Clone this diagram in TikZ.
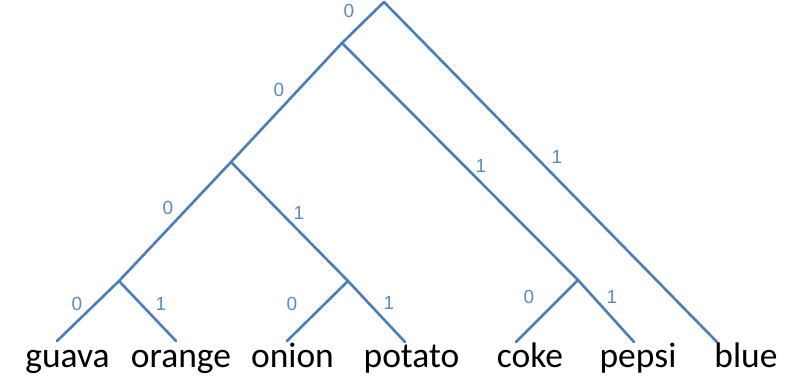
\documentclass[tikz,border=0pt]{standalone}
\usepackage{fontspec}
\setmainfont{Carlito}
\newfontfamily\bitfont{Liberation Sans}
\usepackage{xcolor}
\usepackage{tikz}
\usetikzlibrary{positioning, calc}

\definecolor{branchblue}{HTML}{4A7EBB}
\definecolor{bitblue}{HTML}{5A8AC4}

\begin{document}
\begin{tikzpicture}[
    x=1pt, y=-1pt,
    branch/.style={draw=branchblue, line width=2.6pt, line cap=round},
    word/.style={anchor=base, inner sep=0pt, font=\fontsize{35.5}{40}\selectfont},
    bit/.style={inner sep=0pt, text=bitblue, font=\bitfont\fontsize{19}{22}\selectfont}
]
\useasboundingbox (0,0) rectangle (805,376);

% inner points of the tree
\coordinate (root) at (384,2);
\coordinate (n0) at (342,43);
\coordinate (n00) at (231,162);
\coordinate (n000) at (119,281);
\coordinate (n001) at (348,281);
\coordinate (n01) at (578,280);

% ends of the leaf branches
\coordinate (tguava) at (57,341);
\coordinate (torange) at (176,341);
\coordinate (tonion) at (287,341);
\coordinate (tpotato) at (405,342);
\coordinate (tcoke) at (516,342);
\coordinate (tpepsi) at (634,342);
\coordinate (tblue) at (717,342);

% branches
\draw[branch] (root) -- (n0);
\draw[branch] (root) -- (tblue);
\draw[branch] (n0) -- (n00);
\draw[branch] (n0) -- (n01);
\draw[branch] (n00) -- (n000);
\draw[branch] (n00) -- (n001);
\draw[branch] (n000) -- (tguava);
\draw[branch] (n000) -- (torange);
\draw[branch] (n001) -- (tonion);
\draw[branch] (n001) -- (tpotato);
\draw[branch] (n01) -- (tcoke);
\draw[branch] (n01) -- (tpepsi);

% bit labels
\node[bit] (broot0) at (349,11) {0};
\node[bit] (broot1) at (557,157) {1};
\node[bit] (bn00) at (279,90) {0};
\node[bit] (bn01) at (481,166) {1};
\node[bit] (bn000) at (168,208) {0};
\node[bit] (bn001) at (299,213) {1};
\node[bit] (bguava) at (77,304) {0};
\node[bit] (borange) at (161,304) {1};
\node[bit] (bonion) at (292,304) {0};
\node[bit] (bpotato) at (389,303) {1};
\node[bit] (bcoke) at (529,297) {0};
\node[bit] (bpepsi) at (612,297) {1};

% leaf words
\node[word] (guava) at (67.5,367) {guava};
\node[word] (orange) at (181,367) {orange};
\node[word] (onion) at (292.5,367) {onion};
\node[word] (potato) at (411.5,367) {potato};
\node[word] (coke) at (530,367) {coke};
\node[word] (pepsi) at (638,367) {pepsi};
\node[word] (blue) at (746,367) {blue};

\end{tikzpicture}
\end{document}
